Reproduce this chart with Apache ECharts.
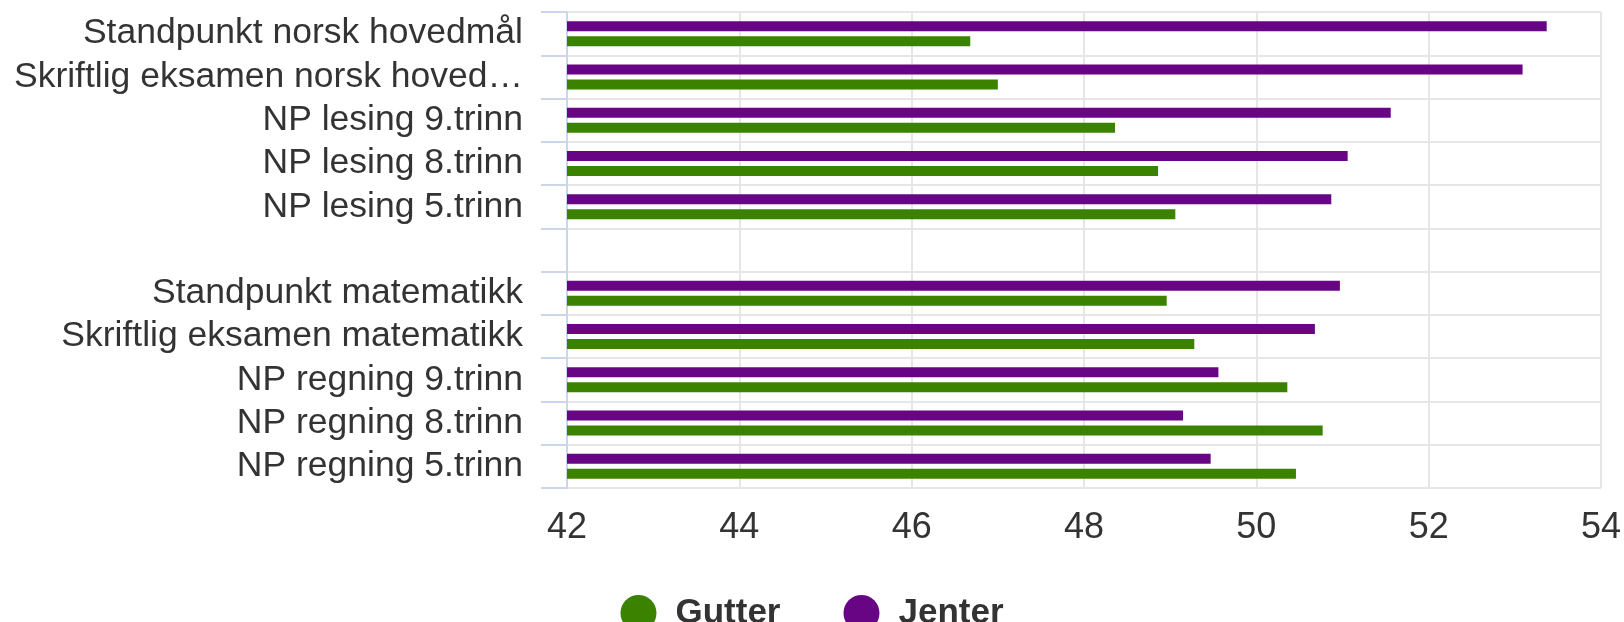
<!DOCTYPE html>
<html>
<head>
<meta charset="utf-8">
<script src="https://cdn.jsdelivr.net/npm/echarts@6/dist/echarts.min.js"></script>
<style>html,body{margin:0;padding:0;background:#fff}#c{width:1624px;height:622px}</style>
</head>
<body>
<div id="c"></div>
<script>
const categories = [
  'Standpunkt norsk hovedmål',
  'Skriftlig eksamen norsk hovedmål',
  'NP lesing 9.trinn',
  'NP lesing 8.trinn',
  'NP lesing 5.trinn',
  '',
  'Standpunkt matematikk',
  'Skriftlig eksamen matematikk',
  'NP regning 9.trinn',
  'NP regning 8.trinn',
  'NP regning 5.trinn'
];
const jenter = [53.37, 53.09, 51.56, 51.06, 50.87, null, 50.97, 50.68, 49.56, 49.15, 49.47];
const gutter = [46.68, 47.0, 48.36, 48.86, 49.06, null, 48.96, 49.28, 50.36, 50.77, 50.46];
const xTicks = [42, 44, 46, 48, 50, 52, 54];

const FONT = '"Liberation Sans", Arial, sans-serif';
const chart = echarts.init(document.getElementById('c'), null, {renderer: 'canvas'});
chart.setOption({
  animation: false,
  backgroundColor: '#ffffff',
  grid: {left: 567, right: 4, top: 12, bottom: 134, containLabel: false},
  legend: {
    data: ['Gutter', 'Jenter'],
    left: 'center',
    top: 590,
    icon: 'circle',
    itemWidth: 36,
    itemHeight: 36,
    itemGap: 63,
    textStyle: {fontFamily: FONT, fontSize: 35, fontWeight: 'bold', color: '#333333', padding: [0, 0, 0, 14]}
  },
  xAxis: {
    type: 'value',
    min: xTicks[0],
    max: xTicks[xTicks.length - 1],
    interval: 2,
    axisLine: {show: false},
    axisTick: {show: false},
    axisLabel: {fontFamily: FONT, fontSize: 36, color: '#333333', margin: 22},
    splitLine: {show: true, lineStyle: {color: '#e6e6e6', width: 2}}
  },
  yAxis: {
    type: 'category',
    data: categories,
    inverse: true,
    axisLine: {show: true, lineStyle: {color: '#ccd6eb', width: 2}},
    axisTick: {show: true, length: 26, lineStyle: {color: '#ccd6eb', width: 2}},
    axisLabel: {
      interval: 0,
      fontFamily: FONT, fontSize: 35.5, color: '#333333', margin: 44,
      width: 524, overflow: 'truncate', ellipsis: '…',
      padding: [12, 0, 0, 0]
    },
    splitLine: {show: true, lineStyle: {color: '#e6e6e6', width: 2}}
  },
  series: [
    {name: 'Jenter', type: 'bar', data: jenter, barWidth: 10, barGap: '50%',
     itemStyle: {color: '#670584'}},
    {name: 'Gutter', type: 'bar', data: gutter, barWidth: 10, barGap: '50%',
     itemStyle: {color: '#3b8200'}}
  ]
});
</script>
</body>
</html>
